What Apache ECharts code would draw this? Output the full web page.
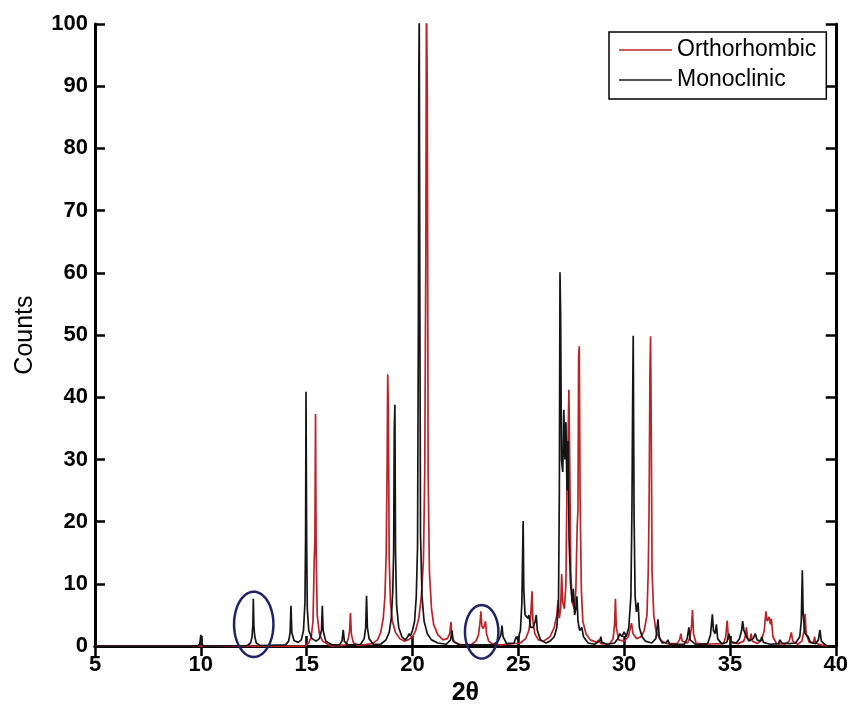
<!DOCTYPE html>
<html>
<head>
<meta charset="utf-8">
<script src="https://cdn.jsdelivr.net/npm/echarts/dist/echarts.min.js"></script>
<style>
  html, body { margin: 0; padding: 0; background: #fff; }
  #chart { width: 851px; height: 711px; }
</style>
</head>
<body>
<div id="chart"></div>
<script>
// Diffraction profiles, [2θ, counts]
const orthorhombic = [
  [5, 0], [14.9, 0], [15.1, 0.5], [15.22, 1.5], [15.3, 4], [15.36, 14], [15.39, 17], [15.42, 37.3], [15.45, 15], [15.5, 5], [15.6, 2], [15.75, 0.8], [16.0, 0.3], [16.2, 0],
  [16.85, 0.2], [16.97, 1.2], [17.03, 2.5], [17.07, 5.3], [17.11, 2.0], [17.2, 0.6], [17.4, 0.1],
  [18.1, 0.4], [18.35, 1.0], [18.5, 2.2], [18.62, 4.5], [18.7, 8], [18.76, 15], [18.8, 28], [18.83, 43.7], [18.86, 38.6], [18.9, 14], [18.96, 7], [19.05, 4], [19.2, 2.2], [19.4, 1.2], [19.6, 0.8],
  [19.8, 1.0], [20.0, 1.5], [20.15, 2.5], [20.3, 4.5], [20.42, 8], [20.52, 14], [20.58, 28], [20.63, 62], [20.66, 105], [20.7, 89], [20.74, 28], [20.8, 12], [20.9, 6], [21.0, 3.5], [21.2, 1.8], [21.45, 1.0],
  [21.65, 1.2], [21.76, 2.0], [21.82, 3.9], [21.86, 1.5], [22.0, 0.6], [22.3, 0.2],
  [22.8, 0.3], [23.0, 0.8], [23.12, 1.8], [23.2, 4], [23.23, 5.6], [23.28, 3.2], [23.34, 2.8], [23.4, 3.2], [23.45, 4.0], [23.5, 2], [23.6, 0.8], [23.8, 0.3], [24.2, 0.2],
  [25.1, 0.5], [25.35, 1.2], [25.5, 2.5], [25.58, 4.5], [25.62, 7], [25.65, 8.8], [25.69, 4], [25.78, 2], [25.95, 1], [26.2, 0.8],
  [26.5, 1.5], [26.7, 3], [26.82, 5], [26.88, 7.4], [26.94, 4.5], [27.0, 6], [27.05, 11.6], [27.1, 7], [27.18, 6], [27.25, 10], [27.3, 26], [27.35, 32.6], [27.39, 41.2], [27.43, 29.6], [27.48, 12],
  [27.55, 7], [27.65, 6], [27.72, 9], [27.78, 19], [27.82, 22], [27.85, 46.6], [27.88, 48.2], [27.92, 24], [27.98, 9], [28.05, 4], [28.2, 2], [28.4, 1], [28.7, 0.6], [28.8, 1.0], [28.9, 0.4],
  [29.3, 0.3], [29.48, 1.2], [29.55, 3.5], [29.59, 7.6], [29.63, 3], [29.75, 1.0], [30.0, 0.8], [30.2, 1.5], [30.3, 3], [30.35, 3.7], [30.42, 2], [30.6, 1.2],
  [30.8, 1.5], [30.95, 2.5], [31.08, 5], [31.14, 12], [31.18, 22], [31.22, 44], [31.25, 49.8], [31.28, 36], [31.32, 12], [31.4, 5], [31.5, 2.5], [31.7, 1], [32.0, 0.4],
  [32.5, 0.4], [32.62, 1], [32.68, 2], [32.74, 0.8], [33.0, 0.5], [33.12, 1.5], [33.18, 3], [33.23, 5.8], [33.28, 2], [33.4, 0.5], [33.8, 0.3],
  [34.7, 0.4], [34.8, 1.5], [34.87, 4.1], [34.93, 1.2], [35.1, 0.5], [35.4, 0.4], [35.65, 0.8], [35.72, 1.5], [35.78, 3], [35.84, 1.2], [35.95, 1.0], [36.0, 2], [36.06, 0.8], [36.3, 0.4],
  [36.5, 1.0], [36.62, 2.5], [36.7, 5.6], [36.76, 4], [36.85, 4.7], [36.91, 3.5], [36.96, 4.4], [37.03, 1.5], [37.2, 0.4], [37.6, 0.3], [37.8, 0.8], [37.9, 2.2], [37.97, 0.8], [38.2, 0.3],
  [38.4, 0.8], [38.5, 2.5], [38.55, 5.2], [38.6, 2], [38.75, 0.6], [38.95, 0.6], [39.0, 1.5], [39.05, 0.5], [39.3, 0.2], [39.6, 0]
];

const monoclinic = [
  [5, 0], [9.85, 0], [9.95, 0.3], [10.0, 1.8], [10.05, 0.3], [10.15, 0],
  [12.2, 0.1], [12.35, 0.5], [12.42, 1.5], [12.46, 3.5], [12.48, 7.6], [12.51, 3.0], [12.55, 1.5], [12.62, 0.5], [12.8, 0.1],
  [14.0, 0.2], [14.15, 0.8], [14.22, 2.2], [14.26, 6.5], [14.3, 2.2], [14.4, 0.9], [14.6, 0.6], [14.75, 1.0], [14.85, 2.5], [14.92, 7], [14.95, 17.5], [14.97, 40.9], [15.0, 17], [15.03, 6],
  [15.1, 2.5], [15.25, 1.2], [15.45, 0.8], [15.6, 1.2], [15.7, 2.5], [15.74, 6.5], [15.78, 2.5], [15.9, 0.8], [16.2, 0.2],
  [16.55, 0.2], [16.67, 0.8], [16.73, 2.6], [16.78, 0.8], [16.95, 0.2],
  [17.55, 0.3], [17.72, 1.2], [17.79, 3.0], [17.83, 8.1], [17.87, 3.0], [17.95, 1.2], [18.15, 0.3],
  [18.5, 0.3], [18.75, 1.0], [18.9, 2.2], [19.0, 4.5], [19.07, 9], [19.11, 15], [19.14, 34.7], [19.17, 38.8], [19.2, 15], [19.25, 6.5], [19.35, 3], [19.5, 1.5], [19.65, 1.0], [19.78, 1.5], [19.83, 2.0], [19.9, 1.6],
  [20.0, 2.5], [20.1, 4], [20.18, 8], [20.24, 16], [20.28, 53], [20.3, 92], [20.32, 102], [20.35, 54], [20.38, 18], [20.45, 8], [20.55, 4], [20.7, 2.0], [20.9, 1.0], [21.2, 0.5],
  [21.6, 0.3], [21.8, 1], [21.87, 2.5], [21.92, 0.8], [22.2, 0.2],
  [23.8, 0.2], [24.05, 0.8], [24.18, 1.8], [24.23, 3.3], [24.28, 1.5], [24.45, 0.4], [24.8, 0.5], [24.9, 1.5], [24.98, 1.0],
  [25.1, 2.5], [25.17, 7], [25.2, 14], [25.23, 20.1], [25.26, 9], [25.32, 5], [25.45, 4.5], [25.5, 5], [25.58, 3], [25.7, 3], [25.8, 4], [25.85, 5], [25.9, 2.5], [26.05, 1.0], [26.3, 0.5],
  [26.5, 0.8], [26.7, 1.5], [26.82, 3], [26.9, 7], [26.94, 25], [26.97, 60.1], [27.0, 53.5], [27.04, 30], [27.1, 28], [27.15, 38], [27.2, 30], [27.25, 36], [27.3, 25], [27.35, 33], [27.4, 17],
  [27.47, 10], [27.55, 7], [27.6, 9.2], [27.66, 5], [27.72, 6], [27.77, 8], [27.82, 4], [27.9, 2.5], [28.0, 3], [28.08, 1.5], [28.3, 0.5], [28.6, 0.3], [28.85, 0.8], [28.9, 1.5], [28.95, 0.6], [29.2, 0.3],
  [29.55, 0.5], [29.7, 1.2], [29.8, 2.0], [29.9, 1.5], [30.0, 2.3], [30.1, 1.5], [30.22, 3], [30.32, 8], [30.37, 22], [30.4, 38], [30.43, 49.9], [30.47, 21], [30.52, 8], [30.58, 5.5], [30.66, 7],
  [30.72, 3], [30.85, 1.5], [31.0, 0.8], [31.3, 0.5], [31.5, 1.2], [31.6, 4.3], [31.66, 1.5], [31.8, 0.5], [32.0, 0.6], [32.07, 1], [32.15, 0.3],
  [32.85, 0.3], [32.98, 1.2], [33.06, 3], [33.12, 1], [33.4, 0.2], [33.95, 0.4], [34.08, 1.8], [34.17, 5.1], [34.22, 2.5], [34.3, 2], [34.36, 3.5], [34.42, 1.2], [34.6, 0.4],
  [34.85, 0.6], [34.95, 2], [35.05, 0.7], [35.3, 0.5], [35.45, 1.2], [35.55, 2.5], [35.6, 4], [35.66, 2.5], [35.78, 1.5], [35.9, 0.8], [36.1, 1.2], [36.2, 2], [36.28, 1],
  [36.45, 0.8], [36.5, 1.5], [36.58, 0.6], [36.9, 0.3], [37.3, 0.4], [37.36, 1], [37.45, 0.5], [37.8, 0.4], [38.1, 0.5], [38.3, 1.5], [38.37, 4], [38.42, 12.2], [38.46, 5], [38.55, 2],
  [38.7, 1.5], [38.8, 0.6], [39.05, 0.4], [39.18, 1], [39.25, 2.6], [39.32, 0.8], [39.5, 0.2], [39.6, 0]
];

// Marked reflections: [2θ centre, counts centre, half-width in 2θ, half-height in counts]
const markedPeaks = [
  [12.5, 3.5, 0.93, 5.25],
  [23.27, 2.3, 0.79, 4.3]
];

const xRange = [5, 40];
const yRange = [0, 100];
const seriesNames = ['Orthorhombic', 'Monoclinic'];
const seriesColors = ['#bb2328', '#151515'];

const FONT = 'Liberation Sans, Arial, Helvetica, sans-serif';
const frameLine = { show: true, lineStyle: { color: '#000', width: 3 } };
const innerTicks = { show: true, inside: true, length: 10, lineStyle: { color: '#000', width: 2.5 } };
const tickLabel = { fontSize: 22, fontWeight: 'bold', color: '#000', fontFamily: FONT };

const chart = echarts.init(document.getElementById('chart'), null, { renderer: 'canvas' });

chart.setOption({
  animation: false,
  backgroundColor: '#fff',
  grid: { left: 95, right: 15, top: 24, bottom: 58, containLabel: false },
  legend: {
    data: seriesNames,
    orient: 'vertical',
    left: 609,
    top: 32,
    padding: [6, 10, 7, 10],
    itemGap: 6,
    itemWidth: 53,
    itemHeight: 1.5,
    icon: 'rect',
    backgroundColor: '#fff',
    borderColor: '#000',
    borderWidth: 1.5,
    borderRadius: 0,
    selectedMode: false,
    textStyle: { fontSize: 23, color: '#000', fontFamily: FONT, lineHeight: 24, padding: [0, 0, 0, 0] }
  },
  xAxis: [
    {
      type: 'value', min: xRange[0], max: xRange[1], interval: 5, position: 'bottom',
      axisLine: frameLine, axisTick: innerTicks, splitLine: { show: false },
      axisLabel: Object.assign({ margin: 8 }, tickLabel),
      name: '2θ', nameLocation: 'middle', nameGap: 24,
      nameTextStyle: { fontSize: 25, fontWeight: 'bold', color: '#000', fontFamily: FONT }
    },
    {
      type: 'value', min: xRange[0], max: xRange[1], interval: 5, position: 'top',
      axisLine: frameLine, axisTick: innerTicks, splitLine: { show: false },
      axisLabel: { show: false }
    }
  ],
  yAxis: [
    {
      type: 'value', min: yRange[0], max: yRange[1], interval: 10, position: 'left',
      axisLine: frameLine, axisTick: innerTicks, splitLine: { show: false },
      axisLabel: Object.assign({ margin: 7 }, tickLabel),
      name: 'Counts', nameLocation: 'middle', nameGap: 57, nameRotate: 90,
      nameTextStyle: { fontSize: 25, color: '#000', fontFamily: FONT }
    },
    {
      type: 'value', min: yRange[0], max: yRange[1], interval: 10, position: 'right',
      axisLine: frameLine, axisTick: innerTicks, splitLine: { show: false },
      axisLabel: { show: false }
    }
  ],
  series: [
    {
      name: seriesNames[0], type: 'line', data: orthorhombic,
      xAxisIndex: 0, yAxisIndex: 0,
      showSymbol: false, symbol: 'none', clip: true,
      color: seriesColors[0],
      lineStyle: { color: seriesColors[0], width: 1.7 },
      z: 2
    },
    {
      name: seriesNames[1], type: 'line', data: monoclinic,
      xAxisIndex: 0, yAxisIndex: 0,
      showSymbol: false, symbol: 'none', clip: true,
      color: seriesColors[1],
      lineStyle: { color: seriesColors[1], width: 1.7 },
      z: 3
    },
    {
      // ellipses around the reflections found in only one phase
      name: 'marks', type: 'custom', data: markedPeaks,
      xAxisIndex: 0, yAxisIndex: 0, silent: true, clip: false, z: 4,
      renderItem: function (params, api) {
        const c = api.coord([api.value(0), api.value(1)]);
        const s = api.size([api.value(2), api.value(3)]);
        const pts = [];
        for (let i = 0; i <= 72; i++) {
          const a = (i / 72) * Math.PI * 2;
          pts.push([c[0] + s[0] * Math.cos(a), c[1] + s[1] * Math.sin(a)]);
        }
        return {
          type: 'polygon',
          shape: { points: pts },
          style: { fill: 'none', stroke: '#1f2468', lineWidth: 2.5 }
        };
      }
    }
  ]
});
</script>
</body>
</html>
